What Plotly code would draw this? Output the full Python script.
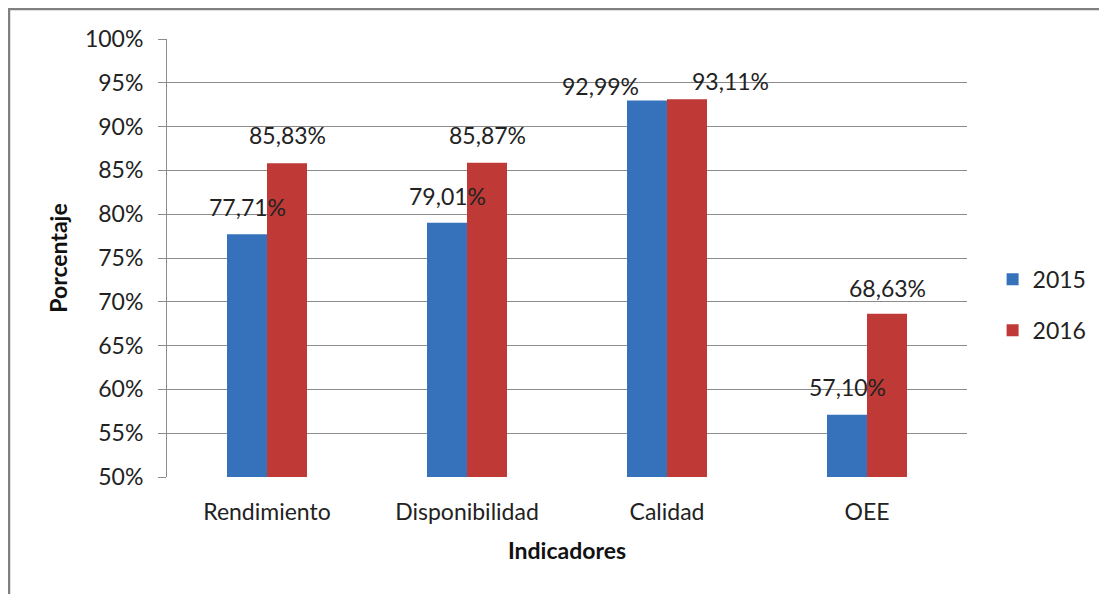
import plotly.graph_objects as go

categories = ["Rendimiento", "Disponibilidad", "Calidad", "OEE"]
values_2015 = [77.71, 79.01, 92.99, 57.10]
values_2016 = [85.83, 85.87, 93.11, 68.63]
series_names = ["2015", "2016"]
y_ticks = [50, 55, 60, 65, 70, 75, 80, 85, 90, 95, 100]

# label placement offsets (pixels) relative to each bar top-centre
lbl_dx_2015 = [0, 0, -47, 0]
lbl_dx_2016 = [0, 0, 43, 0]
lbl_dy_2015 = [27, 27, 14, 28]
lbl_dy_2016 = [28, 28, 18, 26]

FONT = "Lato"
TXT = "#222222"
GRID = "#8c8c8c"
BLUE = "#3672BC"
RED = "#BF3A36"

fig = go.Figure()
fig.add_trace(go.Bar(x=categories, y=values_2015, name=series_names[0],
                     marker=dict(color=BLUE, line=dict(width=0)),
                     legendgroup="a"))
fig.add_trace(go.Bar(x=categories, y=values_2016, name=series_names[1],
                     marker=dict(color=RED, line=dict(width=0)),
                     legendgroup="b"))

def fmt(v):
    return f"{v:.2f}".replace(".", ",") + "%"

annotations = []
for vals, dxs, dys, side in [(values_2015, lbl_dx_2015, lbl_dy_2015, -20),
                             (values_2016, lbl_dx_2016, lbl_dy_2016, 20)]:
    for c, v, dx, dy in zip(categories, vals, dxs, dys):
        annotations.append(dict(x=c, y=v, xref="x", yref="y", text=fmt(v),
                                showarrow=False, xanchor="center", yanchor="middle",
                                xshift=side + dx, yshift=dy,
                                font=dict(family=FONT, size=23, color=TXT)))

fig.update_layout(
    width=1099, height=586,
    margin=dict(l=159, r=140, t=31, b=117),
    paper_bgcolor="white", plot_bgcolor="white",
    barmode="group", bargap=0.6, bargroupgap=0,
    font=dict(family=FONT, size=23, color=TXT),
    showlegend=True,
    legend=dict(x=1.032, y=0.393, xanchor="left", yanchor="middle",
                traceorder="grouped", tracegroupgap=18,
                font=dict(family=FONT, size=23, color=TXT),
                bgcolor="rgba(0,0,0,0)", borderwidth=0),
    annotations=annotations,
    shapes=[dict(type="rect", xref="paper", yref="paper",
                 x0=-0.1975, x1=1.3, y0=-0.4, y1=1.0685,
                 line=dict(color="#808080", width=2.5), fillcolor="rgba(0,0,0,0)",
                 layer="below")],
)

fig.update_xaxes(
    showgrid=False, showline=False, zeroline=False, ticks="",
    tickfont=dict(family=FONT, size=23, color=TXT), ticklabelstandoff=19,
    title=dict(text="<b>Indicadores</b>", font=dict(family=FONT, size=23, color="#111111"),
               standoff=18),
)
fig.update_yaxes(
    range=[50, 100], tickvals=y_ticks, ticktext=[f"{t}%" for t in y_ticks],
    showgrid=True, gridcolor=GRID, gridwidth=1,
    showline=True, linecolor=GRID, linewidth=1,
    zeroline=False, ticks="outside", ticklen=8, tickcolor=GRID,
    tickfont=dict(family=FONT, size=23, color=TXT), ticklabelstandoff=10,
    title=dict(text="<b>Porcentaje</b>", font=dict(family=FONT, size=23, color="#111111"),
               standoff=10),
)

fig.write_html("out.html")
